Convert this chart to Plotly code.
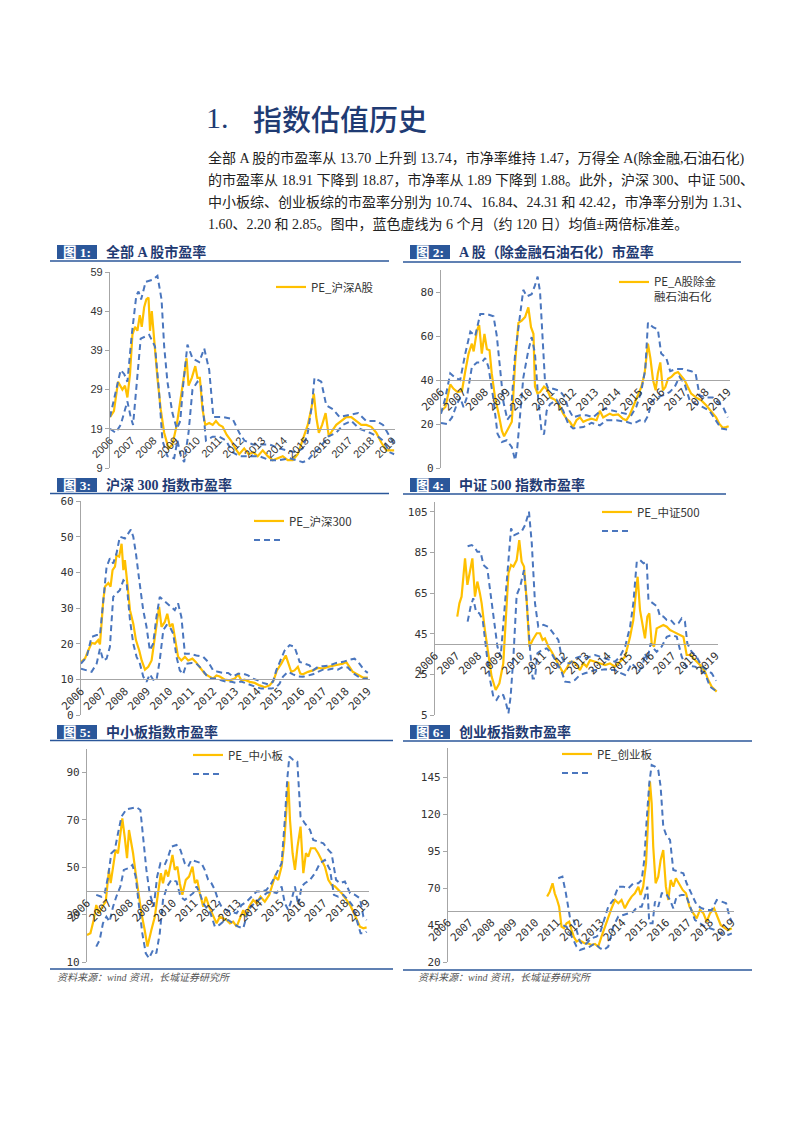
import plotly.graph_objects as go

# ---------------- data (year, value) ----------------
YEARS = list(range(2006, 2020))
YEAR_LABELS = [str(y) for y in YEARS]

C1_PE = [(2006.00,22),(2006.18,23.5),(2006.37,31),(2006.57,29),(2006.69,30),(2006.80,27),(2006.92,33),(2007.03,43),(2007.15,45),(2007.26,44),(2007.37,48),(2007.46,45),(2007.57,50),(2007.67,52),(2007.77,52.5),(2007.84,44),(2007.92,49),(2008.03,41),(2008.18,32),(2008.33,24),(2008.49,18),(2008.69,14),(2008.87,15),(2009.07,20),(2009.26,27),(2009.41,33),(2009.52,37),(2009.61,30),(2009.76,32),(2009.92,35),(2010.02,32),(2010.13,32),(2010.25,24),(2010.38,20),(2010.56,20.5),(2010.72,20),(2010.87,21),(2011.02,20),(2011.18,19.5),(2011.36,17.5),(2011.56,16),(2011.76,14),(2011.94,12.5),(2012.17,14),(2012.37,12.5),(2012.59,13),(2012.79,12),(2013.02,13.5),(2013.25,12),(2013.48,11),(2013.71,11.5),(2013.94,12),(2014.17,11),(2014.40,11),(2014.63,12.5),(2014.86,16),(2015.09,20),(2015.25,24),(2015.37,28),(2015.48,22),(2015.60,18),(2015.75,20),(2015.91,23),(2016.06,17),(2016.21,18.5),(2016.40,20),(2016.63,21),(2016.86,22),(2017.09,22),(2017.32,21),(2017.55,20),(2017.78,20),(2018.01,19.5),(2018.24,18),(2018.47,15.5),(2018.70,13.5),(2018.93,13.5),(2019.06,13.5)]
C1_UP = [(2006.00,22),(2006.49,34),(2006.65,33),(2006.80,31),(2007.00,43),(2007.21,53),(2007.31,54),(2007.43,52),(2007.64,56.5),(2007.95,57),(2008.18,58),(2008.37,52),(2008.49,40),(2008.64,31),(2008.87,23),(2009.07,19),(2009.23,21),(2009.36,30),(2009.56,40.5),(2009.79,37),(2010.10,36),(2010.33,39.5),(2010.56,34),(2010.75,22),(2011.18,22),(2011.64,21.5),(2011.94,18),(2012.18,16),(2012.56,15),(2013.02,15),(2013.33,15),(2013.79,14),(2014.10,13.5),(2014.56,13),(2014.86,14),(2015.09,18),(2015.28,25),(2015.40,32),(2015.71,31),(2015.94,25),(2016.25,24),(2016.55,22),(2017.01,22.5),(2017.40,23),(2017.78,21),(2018.24,21),(2018.55,20),(2018.86,17),(2019.06,15)]
C1_LO = [(2006.00,19),(2006.26,18),(2006.49,20),(2006.80,26),(2006.95,22),(2007.06,20),(2007.41,42),(2007.80,43),(2008.07,40),(2008.26,28),(2008.41,16),(2008.64,12),(2008.95,11.5),(2009.10,16),(2009.26,12),(2009.41,10.5),(2009.61,18),(2009.79,29),(2010.02,31),(2010.18,30),(2010.41,16),(2010.72,17),(2011.02,17),(2011.33,16),(2011.64,13),(2011.94,12),(2012.41,12),(2012.87,12),(2013.33,11),(2013.79,11),(2014.25,11.5),(2014.86,10.5),(2015.09,11),(2015.40,13),(2015.63,14),(2016.02,17),(2016.40,18),(2016.71,20),(2017.09,21),(2017.47,19),(2017.94,18),(2018.32,17),(2018.55,16),(2018.86,13),(2019.06,12.5)]

C2_PE = [(2006.00,25.8),(2006.20,27.7),(2006.42,38),(2006.57,36),(2006.75,34.5),(2006.95,35),(2007.10,44),(2007.25,52),(2007.40,56.5),(2007.48,53),(2007.63,62.5),(2007.73,65),(2007.85,52),(2007.97,61),(2008.08,54),(2008.20,53.5),(2008.30,43),(2008.45,32),(2008.61,24.7),(2008.76,17),(2008.86,14.4),(2009.06,18),(2009.21,21),(2009.36,48),(2009.51,66),(2009.66,67),(2009.81,68.6),(2009.96,73),(2010.08,64),(2010.19,61),(2010.26,37),(2010.37,34),(2010.49,34.5),(2010.67,37),(2010.79,36),(2010.97,32),(2011.17,31),(2011.36,28.5),(2011.54,24.7),(2011.69,22.4),(2011.84,21),(2011.99,18.6),(2012.14,21.7),(2012.30,23),(2012.45,21),(2012.60,21.7),(2012.82,22.4),(2013.05,21.7),(2013.20,26),(2013.35,23),(2013.50,24),(2013.65,24.7),(2013.80,24),(2014.03,24.4),(2014.25,22.4),(2014.40,21.7),(2014.55,24),(2014.70,27.7),(2014.89,31.5),(2015.08,36.8),(2015.23,43),(2015.38,56.5),(2015.49,50),(2015.61,40),(2015.73,35.3),(2015.83,43),(2015.94,48),(2016.06,35.3),(2016.17,36.8),(2016.29,40.6),(2016.44,41.4),(2016.59,43),(2016.74,43.6),(2016.89,42),(2017.04,40),(2017.19,36.8),(2017.34,33.8),(2017.57,32),(2017.79,30.8),(2018.02,28.5),(2018.24,26),(2018.47,23),(2018.62,20),(2018.77,18.3),(2018.92,18.6),(2019.04,19)]
C2_UP = [(2006.00,24.7),(2006.20,32),(2006.42,43),(2006.65,41),(2006.87,40),(2007.10,52),(2007.33,62),(2007.55,60),(2007.78,70),(2008.08,70),(2008.38,69),(2008.53,60),(2008.68,45),(2008.83,30),(2009.01,22),(2009.16,24),(2009.36,52),(2009.58,70),(2009.73,81),(2009.89,78),(2010.11,79),(2010.26,83),(2010.38,87),(2010.49,80),(2010.61,60),(2010.71,40),(2010.86,36),(2011.09,36),(2011.39,35),(2011.62,32),(2011.77,27),(2011.99,23),(2012.30,24),(2012.60,24),(2012.90,23),(2013.12,25),(2013.42,27),(2013.80,26),(2014.25,25),(2014.63,24),(2014.86,28),(2015.08,35),(2015.26,45),(2015.38,66),(2015.61,64),(2015.83,63),(2015.98,52),(2016.21,50),(2016.39,44),(2016.66,45),(2016.96,45),(2017.34,44),(2017.54,43),(2017.72,33),(2018.02,32),(2018.32,32),(2018.55,30),(2018.77,28),(2019.00,23)]
C2_LO = [(2006.00,20.5),(2006.27,20),(2006.50,23),(2006.72,29),(2006.87,32),(2007.02,27.7),(2007.17,32),(2007.40,46),(2007.63,48),(2007.85,48),(2008.00,50),(2008.15,46),(2008.38,31),(2008.56,15.6),(2008.76,11.8),(2008.98,12.6),(2009.21,9.5),(2009.36,3.5),(2009.46,9.5),(2009.58,24.7),(2009.73,41),(2009.96,53.5),(2010.11,59.5),(2010.26,52),(2010.41,31),(2010.56,16.4),(2010.67,15.3),(2010.79,26),(2010.94,29),(2011.24,31),(2011.54,26),(2011.77,20),(2011.99,18),(2012.45,18.6),(2012.82,20.5),(2013.20,19.4),(2013.50,21.7),(2013.95,21.7),(2014.40,21),(2014.70,20),(2015.01,21.7),(2015.23,21),(2015.40,24),(2015.53,30),(2015.76,32),(2016.06,33),(2016.36,34.5),(2016.59,36.8),(2016.81,41.4),(2017.04,38.3),(2017.27,30.8),(2017.57,29),(2017.87,27.7),(2018.17,26),(2018.47,21.7),(2018.70,18),(2019.00,17.4)]

C3_PE = [(2006.00,14.9),(2006.18,15.8),(2006.33,18.1),(2006.48,20.2),(2006.63,20),(2006.78,21),(2006.86,19.8),(2007.01,32.2),(2007.09,36),(2007.24,37),(2007.34,36),(2007.43,40.6),(2007.54,41.6),(2007.61,44.8),(2007.73,44.4),(2007.84,48),(2007.92,40.6),(2007.99,43.4),(2008.10,36.9),(2008.22,29.4),(2008.37,25.6),(2008.49,21),(2008.64,18.1),(2008.75,15.3),(2008.90,12.7),(2009.05,13.5),(2009.20,15.3),(2009.35,21.9),(2009.45,25.6),(2009.54,30.3),(2009.65,24.7),(2009.80,26.1),(2009.91,28.4),(2010.03,24.7),(2010.15,25.6),(2010.25,21.9),(2010.40,16.3),(2010.55,15.3),(2010.71,16.3),(2010.86,15.3),(2011.05,15.8),(2011.20,14.9),(2011.38,13.5),(2011.61,11.6),(2011.84,10.7),(2011.99,10.2),(2012.14,11.1),(2012.29,10.8),(2012.52,9.9),(2012.74,9.7),(2012.97,10.2),(2013.12,11.4),(2013.27,9.7),(2013.42,9.9),(2013.65,9.3),(2013.87,9),(2014.10,8.3),(2014.33,7.8),(2014.55,8.3),(2014.73,9.7),(2014.88,12.5),(2015.08,14.4),(2015.28,16.7),(2015.38,14.9),(2015.53,12.1),(2015.68,12.5),(2015.83,13.5),(2015.94,11.6),(2016.06,11.4),(2016.29,12.1),(2016.51,12.5),(2016.74,13.2),(2016.97,13),(2017.19,13.5),(2017.42,13.9),(2017.64,14.1),(2017.87,14.4),(2018.02,14.9),(2018.17,13.5),(2018.32,12.1),(2018.47,11.6),(2018.62,11.1),(2018.78,10.5),(2019.00,10.5)]
C3_UP = [(2006.00,14.4),(2006.26,16.3),(2006.48,21.9),(2006.71,22.4),(2006.86,22.4),(2007.01,31.3),(2007.16,41.6),(2007.31,43.9),(2007.46,42.5),(2007.61,45.3),(2007.76,50),(2007.99,49.5),(2008.14,50.9),(2008.26,52),(2008.37,50),(2008.49,45.3),(2008.64,37.8),(2008.82,29.4),(2008.97,24.7),(2009.12,18.1),(2009.27,20),(2009.42,27.5),(2009.57,33.1),(2009.73,32.2),(2009.88,31.3),(2010.10,30.3),(2010.25,29.4),(2010.40,31.3),(2010.55,27.5),(2010.71,17.2),(2010.93,17.2),(2011.23,16.7),(2011.54,16.3),(2011.76,14.9),(2011.99,12.5),(2012.21,12.1),(2012.44,11.8),(2012.67,11.8),(2012.89,10.8),(2013.12,11.6),(2013.35,11.6),(2013.57,11.1),(2013.80,10.2),(2014.02,9.7),(2014.25,9),(2014.48,8.6),(2014.70,9.3),(2014.85,12.5),(2015.00,14.9),(2015.23,18.1),(2015.46,19.6),(2015.68,19.1),(2015.91,14.9),(2016.14,14.4),(2016.36,13.9),(2016.51,12.5),(2016.74,13.5),(2016.97,13.7),(2017.27,13.9),(2017.57,14.6),(2017.87,14.9),(2018.17,15.5),(2018.40,15.8),(2018.62,14.4),(2018.85,12.5),(2019.00,11.8)]
C3_LO = [(2006.00,13),(2006.26,12.5),(2006.48,12.1),(2006.71,14.4),(2006.86,18.6),(2007.01,15.3),(2007.16,15.8),(2007.31,19.1),(2007.46,33.1),(2007.61,34.1),(2007.76,35),(2007.92,37.8),(2008.07,36.9),(2008.22,26.6),(2008.37,20),(2008.52,16.3),(2008.67,14.4),(2008.82,10.8),(2008.97,9.3),(2009.12,11.4),(2009.27,9.9),(2009.42,9.7),(2009.57,15.3),(2009.73,23.8),(2009.88,25.2),(2010.03,24.7),(2010.18,22.8),(2010.33,16.3),(2010.48,12.5),(2010.63,11.4),(2010.78,14.4),(2011.01,14.6),(2011.23,14.4),(2011.46,13),(2011.69,11.1),(2011.91,10.2),(2012.14,10.2),(2012.36,9.7),(2012.59,9.3),(2012.82,9.3),(2013.04,9),(2013.27,9.4),(2013.50,8.8),(2013.72,8.3),(2013.95,7.8),(2014.17,7.4),(2014.40,7.4),(2014.63,7.4),(2014.85,7.8),(2015.00,8.8),(2015.15,10.7),(2015.38,12.1),(2015.61,11.4),(2015.83,10.8),(2016.06,10.7),(2016.29,11.1),(2016.51,11.4),(2016.74,12.1),(2016.97,12.7),(2017.19,12.7),(2017.42,13),(2017.64,12.7),(2017.87,13.5),(2018.10,13.3),(2018.32,11.8),(2018.55,10.8),(2018.78,10.2),(2019.00,10.2)]

C4_PE = [(2007.03,53.4),(2007.13,59.9),(2007.23,63.2),(2007.39,82),(2007.50,69),(2007.62,76.3),(2007.73,82),(2007.85,63.2),(2007.96,70.6),(2008.08,64.8),(2008.16,59.9),(2008.31,46.8),(2008.47,33.7),(2008.62,23.9),(2008.81,17.3),(2008.98,20.6),(2009.16,30.4),(2009.29,55),(2009.40,74.7),(2009.52,78.8),(2009.63,78),(2009.78,81.2),(2009.90,91),(2010.01,80.4),(2010.12,78),(2010.24,61.6),(2010.37,38.6),(2010.52,41.9),(2010.71,45.2),(2010.86,45.2),(2010.98,41.9),(2011.09,42.7),(2011.25,38.6),(2011.40,36.1),(2011.56,32.9),(2011.76,29.6),(2011.94,25.5),(2012.10,28),(2012.25,31.2),(2012.40,31.2),(2012.56,29.6),(2012.71,27.1),(2012.87,30.4),(2013.02,28.8),(2013.18,32),(2013.41,31.2),(2013.64,30.4),(2013.87,29.6),(2014.10,30.4),(2014.33,28.8),(2014.56,31.2),(2014.80,33.7),(2015.03,43.5),(2015.18,51.7),(2015.31,66.5),(2015.38,73),(2015.49,56.6),(2015.61,48.4),(2015.72,42.7),(2015.83,53.4),(2015.92,55),(2016.03,40.2),(2016.14,38.6),(2016.26,47.6),(2016.42,48.4),(2016.57,49.3),(2016.73,48.4),(2016.88,46.8),(2017.03,46),(2017.19,45.2),(2017.34,44.3),(2017.50,43.5),(2017.65,34.5),(2017.84,34.5),(2018.04,32),(2018.27,29.6),(2018.50,26.3),(2018.65,22.2),(2018.81,18.9),(2018.96,17.3),(2019.04,16.5)]
C4_UP = [(2007.51,88),(2007.70,88.6),(2007.81,87.8),(2007.96,85.3),(2008.11,85.3),(2008.24,78.8),(2008.42,77.1),(2008.58,64.8),(2008.73,51.7),(2008.89,38.6),(2009.04,33.7),(2009.19,53.4),(2009.35,74.7),(2009.52,96.8),(2009.67,93.5),(2009.81,94.3),(2010.01,95.2),(2010.17,98.4),(2010.35,105),(2010.48,89.4),(2010.63,59.9),(2010.78,48.4),(2011.02,49.3),(2011.25,48.4),(2011.48,45.2),(2011.71,41.9),(2011.86,33.7),(2012.02,30.4),(2012.25,30.4),(2012.48,32.9),(2012.71,33.7),(2012.94,32.9),(2013.18,33.7),(2013.41,34.5),(2013.64,33.7),(2013.87,32.9),(2014.10,32),(2014.33,31.2),(2014.56,33.7),(2014.80,38.6),(2015.03,48.4),(2015.18,59.9),(2015.34,80.4),(2015.49,81.2),(2015.65,79.6),(2015.80,80.4),(2015.88,61.6),(2016.11,59.9),(2016.29,58.3),(2016.42,53.4),(2016.57,53.4),(2016.73,51.7),(2016.91,51.7),(2017.11,49.3),(2017.27,50.1),(2017.42,52.5),(2017.57,50.9),(2017.68,40.2),(2017.88,36.1),(2018.11,33.7),(2018.35,28.8),(2018.58,27.1),(2018.81,25.5),(2019.01,21.9)]
C4_LO = [(2007.51,50.9),(2007.65,58.3),(2007.77,62.4),(2007.90,55.8),(2008.05,55),(2008.21,51.7),(2008.39,35.3),(2008.55,22.2),(2008.70,14),(2008.85,12.4),(2009.01,15.3),(2009.16,14.8),(2009.29,10.7),(2009.40,5.8),(2009.50,14),(2009.63,33.7),(2009.78,64),(2009.94,68.1),(2010.12,76.3),(2010.24,61.6),(2010.40,37),(2010.52,23),(2010.63,23),(2010.74,35.3),(2010.94,37),(2011.17,37.8),(2011.40,35.3),(2011.63,30.4),(2011.86,26.3),(2012.02,21.4),(2012.25,21.1),(2012.48,22.2),(2012.71,24.7),(2012.94,25.5),(2013.18,26.3),(2013.41,27.1),(2013.64,27.1),(2013.87,27.5),(2014.10,27.1),(2014.33,27.1),(2014.56,25.8),(2014.80,24.7),(2014.95,27.1),(2015.10,30.4),(2015.26,28.8),(2015.41,26.3),(2015.61,28.8),(2015.72,35.3),(2015.83,32),(2015.98,40.2),(2016.11,37.8),(2016.26,36.1),(2016.49,38.6),(2016.73,43.5),(2016.96,44.3),(2017.19,43.5),(2017.42,33.7),(2017.62,28.8),(2017.81,29.1),(2018.04,28.8),(2018.27,27.1),(2018.50,25.5),(2018.73,18.9),(2019.01,16.8)]

C5_PE = [(2006.00,21.5),(2006.16,22.2),(2006.31,27.8),(2006.43,34.1),(2006.56,30.6),(2006.71,33.4),(2006.87,35.5),(2007.02,48.9),(2007.10,43.3),(2007.21,50.3),(2007.33,57.3),(2007.44,55.9),(2007.52,62.9),(2007.64,70.6),(2007.75,62.9),(2007.86,53.8),(2007.95,65.7),(2008.06,60.1),(2008.14,55.9),(2008.26,47.5),(2008.37,40.5),(2008.53,30.6),(2008.68,23.6),(2008.81,16.6),(2008.99,23.6),(2009.15,29.2),(2009.30,39.1),(2009.43,47.5),(2009.53,43.3),(2009.66,48.9),(2009.77,46.1),(2009.88,51.7),(2009.97,55.2),(2010.08,48.9),(2010.20,50.3),(2010.31,43.3),(2010.43,38.4),(2010.59,44.7),(2010.74,46.1),(2010.90,50.3),(2011.01,43.3),(2011.12,44.7),(2011.24,39.1),(2011.40,33.4),(2011.52,37.6),(2011.67,33.4),(2011.86,29.9),(2012.02,26.4),(2012.17,29.2),(2012.33,28.5),(2012.48,27.8),(2012.64,26.4),(2012.79,27.1),(2012.95,25),(2013.10,28.5),(2013.26,32),(2013.38,29.2),(2013.53,33.4),(2013.72,36.2),(2013.88,34.8),(2014.06,37.6),(2014.26,35.5),(2014.47,38.4),(2014.62,42.6),(2014.73,46.1),(2014.88,44.7),(2015.04,50.3),(2015.16,60.1),(2015.27,75.5),(2015.35,86.1),(2015.43,69.9),(2015.55,55.9),(2015.66,48.9),(2015.78,58.7),(2015.92,67.1),(2016.05,47.5),(2016.17,55.9),(2016.28,54.5),(2016.40,58),(2016.59,58),(2016.74,55.9),(2016.90,53.1),(2017.05,50.3),(2017.21,44.7),(2017.36,42.6),(2017.52,41.9),(2017.67,40.5),(2017.83,39.1),(2018.06,36.2),(2018.22,34.1),(2018.37,31.3),(2018.53,27.8),(2018.68,25),(2018.84,24.3),(2018.99,24.7)]
C5_UP = [(2006.43,38.4),(2006.67,37.6),(2006.82,39.1),(2006.98,46.1),(2007.13,55.9),(2007.29,57.3),(2007.44,64.3),(2007.60,71.3),(2007.83,74.4),(2008.06,74.8),(2008.29,75.3),(2008.48,74.1),(2008.64,58.7),(2008.76,48.9),(2008.91,39.1),(2009.10,33.4),(2009.26,46.1),(2009.41,51.7),(2009.61,51),(2009.77,54.5),(2009.92,58.7),(2010.16,59.4),(2010.34,57.3),(2010.54,51.7),(2010.70,50.3),(2010.85,53.1),(2011.09,52.4),(2011.32,51.7),(2011.47,48.9),(2011.63,44.7),(2011.78,43.3),(2011.94,40.5),(2012.09,36.2),(2012.25,33.4),(2012.48,32),(2012.71,31.3),(2012.95,30.6),(2013.18,34.1),(2013.41,35.5),(2013.64,37.6),(2013.88,39.8),(2014.11,39.8),(2014.34,40.5),(2014.57,43.3),(2014.81,47.5),(2015.04,51.7),(2015.19,69.9),(2015.30,86.8),(2015.40,96.6),(2015.58,95.2),(2015.77,94.5),(2015.92,71.3),(2016.12,68.5),(2016.36,65.7),(2016.51,61.5),(2016.74,60.8),(2016.98,60.1),(2017.21,57.3),(2017.36,55.9),(2017.57,44.7),(2017.75,43.3),(2017.98,44),(2018.22,39.1),(2018.45,38.4),(2018.68,36.9),(2018.84,29.2),(2018.99,27.8)]
C5_LO = [(2006.43,16.6),(2006.59,19.4),(2006.74,26.4),(2006.90,29.2),(2007.05,27.1),(2007.21,33.4),(2007.36,37.6),(2007.55,41.9),(2007.71,48.9),(2007.91,49.6),(2008.11,51),(2008.26,46.1),(2008.42,33.4),(2008.57,22.2),(2008.73,13.8),(2008.88,11.7),(2009.07,15.2),(2009.22,13.8),(2009.38,22.2),(2009.53,36.2),(2009.72,41.9),(2009.92,44.7),(2010.16,44),(2010.34,37.6),(2010.54,36.2),(2010.74,37.6),(2010.93,39.1),(2011.09,41.9),(2011.24,39.1),(2011.40,34.8),(2011.55,32.7),(2011.74,30.6),(2011.94,25),(2012.14,25.7),(2012.33,27.1),(2012.56,27.8),(2012.79,26.4),(2013.02,25),(2013.26,24.3),(2013.49,32),(2013.69,34.1),(2013.88,35.5),(2014.11,37.6),(2014.34,39.1),(2014.57,39.8),(2014.81,39.1),(2015.04,41.9),(2015.19,34.8),(2015.35,32),(2015.50,36.2),(2015.66,41.9),(2015.81,34.1),(2015.97,41.9),(2016.12,43.3),(2016.36,44.7),(2016.59,47.5),(2016.82,51.7),(2017.05,53.1),(2017.29,48.9),(2017.47,38.4),(2017.67,37.6),(2017.91,38.4),(2018.14,36.2),(2018.37,33.4),(2018.53,27.8),(2018.71,22.2),(2018.91,22.2),(2018.99,22.9)]

C6_PE = [(2010.54,64.4),(2010.66,67.7),(2010.79,73.4),(2010.89,66.6),(2011.00,62.1),(2011.09,57.6),(2011.20,44.1),(2011.31,43),(2011.43,46.4),(2011.55,47.5),(2011.66,41.8),(2011.76,37.3),(2011.89,34),(2012.01,35.1),(2012.12,34),(2012.27,32.8),(2012.42,32.8),(2012.57,31.7),(2012.73,32.4),(2012.88,30.6),(2013.03,37.3),(2013.19,44.1),(2013.34,50.9),(2013.49,56.5),(2013.65,62.1),(2013.80,59.9),(2013.95,62.1),(2014.10,56.5),(2014.26,61),(2014.41,64.4),(2014.56,66.6),(2014.72,71.1),(2014.82,65.5),(2014.94,71.1),(2015.07,86.9),(2015.17,116.2),(2015.25,142.1),(2015.33,127.4),(2015.40,98.2),(2015.51,73.4),(2015.63,77.9),(2015.74,89.1),(2015.86,95.9),(2015.98,71.1),(2016.09,62.1),(2016.20,75.6),(2016.32,71.1),(2016.44,76.8),(2016.60,72.3),(2016.75,68.9),(2016.90,66.6),(2017.06,57.6),(2017.24,53.1),(2017.39,49.7),(2017.54,55.4),(2017.70,53.1),(2017.85,47.5),(2018.00,53.1),(2018.19,56.5),(2018.34,50.9),(2018.49,45.2),(2018.69,43),(2018.84,41.8),(2019.00,43)]
C6_UP = [(2011.05,76.8),(2011.24,77.9),(2011.40,66.6),(2011.58,50.9),(2011.73,49.7),(2011.89,41.8),(2012.04,34),(2012.19,31.7),(2012.35,32.8),(2012.57,36.2),(2012.80,37.3),(2012.96,39.6),(2013.14,48.6),(2013.34,57.6),(2013.57,62.1),(2013.80,71.1),(2014.03,71.1),(2014.26,70),(2014.49,73.4),(2014.72,73.4),(2014.87,75.6),(2014.99,89.1),(2015.10,116.2),(2015.22,141),(2015.33,153.3),(2015.48,152.2),(2015.63,150),(2015.74,138.7),(2015.86,111.7),(2016.02,104.9),(2016.17,102.7),(2016.32,82.4),(2016.55,81.3),(2016.78,80.1),(2016.93,73.4),(2017.16,66.6),(2017.39,58.7),(2017.62,56.5),(2017.85,55.4),(2018.08,55.4),(2018.31,62.1),(2018.54,61),(2018.74,59.9),(2018.89,50.9),(2019.00,47.5)]
C6_LO = [(2011.28,45),(2011.43,44),(2011.58,40),(2011.73,35.1),(2011.89,30.6),(2012.04,28.3),(2012.27,29.5),(2012.50,30.6),(2012.73,32.8),(2012.96,29.5),(2013.14,28.3),(2013.34,30.6),(2013.57,44.1),(2013.80,50.9),(2014.03,52),(2014.26,53.1),(2014.49,54.2),(2014.67,57.6),(2014.87,57.6),(2015.02,64.4),(2015.13,71.1),(2015.22,46.4),(2015.37,46.4),(2015.48,61),(2015.63,57.6),(2015.79,66.6),(2015.98,66.6),(2016.17,62.1),(2016.32,56.5),(2016.47,64.4),(2016.70,65.5),(2016.90,65.5),(2017.09,57.6),(2017.31,48.6),(2017.54,46.4),(2017.77,44.1),(2018.00,43),(2018.23,41.8),(2018.46,39.6),(2018.69,39.6),(2018.84,38.5),(2019.00,39.6)]

CHART_TITLES = ["全部 A 股市盈率", "A 股（除金融石油石化）市盈率", "沪深 300 指数市盈率",
                "中证 500 指数市盈率", "中小板指数市盈率", "创业板指数市盈率"]
FIG_LABELS = ["图 1:", "图 2:", "图 3:", "图 4:", "图 5:", "图 6:"]
SERIES_NAMES = ["PE_沪深A股", "PE_A股除金<br>融石油石化", "PE_沪深300", "PE_中证500", "PE_中小板", "PE_创业板"]
SERIES = [(C1_PE, C1_UP, C1_LO), (C2_PE, C2_UP, C2_LO), (C3_PE, C3_UP, C3_LO),
          (C4_PE, C4_UP, C4_LO), (C5_PE, C5_UP, C5_LO), (C6_PE, C6_UP, C6_LO)]
Y_RANGES = [(9, 59), (0, 90), (0, 60), (5, 110), (10, 100), (20, 165)]
Y_TICK0 = [9, 0, 0, 5, 10, 20]
Y_DTICK = [10, 20, 10, 20, 20, 25]
X_CROSS = [19, 40, 10, 40, 40, 55]

HEADING_NUM = "1."
HEADING_TEXT = "指数估值历史"
PARAGRAPH = [
    "全部 A 股的市盈率从 13.70 上升到 13.74，市净率维持 1.47，万得全 A(除金融,石油石化)",
    "的市盈率从 18.91 下降到 18.87，市净率从 1.89 下降到 1.88。此外，沪深 300、中证 500、",
    "中小板综、创业板综的市盈率分别为 10.74、16.84、24.31 和 42.42，市净率分别为 1.31、",
    "1.60、2.20 和 2.85。图中，蓝色虚线为 6 个月（约 120 日）均值±两倍标准差。",
]
SOURCE = "资料来源：wind 资讯，长城证券研究所"

# ---------------- layout helpers ----------------
W, H = 802, 1133
def fx(px): return px / W
def fy(py): return 1 - py / H

YELLOW = "#FFC000"
BLUE = "#4A76BE"
NAVY = "#1F3B73"
BAR = "#2B579A"
AXIS = "#A6A6A6"
CJK = "Noto Sans CJK SC"

BOXES = [(110, 395, 272, 468), (441, 730, 270, 468), (81, 370, 501, 715),
         (435, 718, 501.5, 715), (87, 369, 748.5, 962.3), (448, 734, 747.7, 962.3)]
HEAD_Y = [252, 252, 485, 485, 732, 732]
HEAD_X = [57, 410, 57, 410, 57, 410]
LINE_Y = [261, 262, 493.5, 494, 740.5, 741]
LINE_X = [(50, 389), (403, 741), (50, 389), (403, 726), (50, 393), (403, 752)]
LEG_POS = [(271, 273), (614, 268), (249, 507), (597, 498), (188, 741), (557, 740)]
TICK_FONT = ["Liberation Sans", "DejaVu Sans Mono", "DejaVu Sans Mono",
             "DejaVu Sans Mono", "DejaVu Sans Mono", "DejaVu Sans Mono"]

fig = go.Figure()
layout = dict(width=W, height=H, margin=dict(l=0, r=0, t=0, b=0),
              paper_bgcolor="white", plot_bgcolor="rgba(0,0,0,0)", shapes=[], annotations=[])

for i in range(6):
    k = "" if i == 0 else str(i + 1)
    xa, ya = "x" + k, "y" + k
    lg = "legend" if i == 0 else "legend" + str(i + 1)
    pe, up, lo = SERIES[i]
    for j, (ser, col, dash, name, show) in enumerate([
            (pe, YELLOW, "solid", SERIES_NAMES[i], True),
            (up, BLUE, "6px,4px", " ", i >= 2),
            (lo, BLUE, "6px,4px", " ", False)]):
        fig.add_trace(go.Scatter(
            x=[p[0] for p in ser], y=[p[1] for p in ser], mode="lines",
            line=dict(color=col, width=2.2 if j == 0 else 2, dash=dash),
            name=name, showlegend=show, legend=lg, xaxis=xa, yaxis=ya,
            hoverinfo="skip"))
    L, R, T, B = BOXES[i]
    y0, y1 = Y_RANGES[i]
    cross_px = B - (X_CROSS[i] - y0) / (y1 - y0) * (B - T)
    tf = dict(family=TICK_FONT[i], size=11, color="#333333")
    layout["xaxis" + k] = dict(
        domain=[fx(L), fx(R)], range=[2006, 2019.1], anchor="free", position=fy(cross_px),
        tickmode="array", tickvals=YEARS, ticktext=YEAR_LABELS, tickangle=-45,
        tickfont=dict(family=TICK_FONT[i], size=11, color="#333333"),
        showline=True, linecolor=AXIS, linewidth=1.3, ticks="", showgrid=False,
        zeroline=False, automargin=False, fixedrange=True)
    layout["yaxis" + k] = dict(
        domain=[fy(B), fy(T)], range=[y0, y1], anchor=xa,
        tickmode="linear", tick0=Y_TICK0[i], dtick=Y_DTICK[i], tickfont=tf,
        showline=True, linecolor=AXIS, linewidth=1.3, ticks="outside", ticklen=4,
        tickcolor=AXIS, showgrid=False, zeroline=False, automargin=False, fixedrange=True)
    lx, ly = LEG_POS[i]
    layout[lg] = dict(x=fx(lx), y=fy(ly), xanchor="left", yanchor="top",
                      bgcolor="rgba(0,0,0,0)", font=dict(family=CJK, size=11.5, color="#333333"),
                      itemwidth=30, tracegroupgap=0, valign="top")
    hx, hy = HEAD_X[i], HEAD_Y[i]
    layout["shapes"].append(dict(type="rect", xref="paper", yref="paper",
                                 x0=fx(hx), x1=fx(hx + 40), y0=fy(hy + 7), y1=fy(hy - 7),
                                 fillcolor=BAR, line=dict(width=0)))
    layout["annotations"].append(dict(x=fx(hx + 20), y=fy(hy), xref="paper", yref="paper",
                                      text="<b>" + FIG_LABELS[i] + "</b>", showarrow=False,
                                      font=dict(family="Liberation Serif, " + CJK, size=13.5, color="white"),
                                      xanchor="center", yanchor="middle"))
    layout["annotations"].append(dict(x=fx(hx + 47), y=fy(hy), xref="paper", yref="paper",
                                      text="<b>" + CHART_TITLES[i] + "</b>", showarrow=False,
                                      font=dict(family="Liberation Serif, " + CJK, size=14, color=NAVY),
                                      xanchor="left", yanchor="middle"))
    lx0, lx1 = LINE_X[i]
    layout["shapes"].append(dict(type="line", xref="paper", yref="paper",
                                 x0=fx(lx0), x1=fx(lx1), y0=fy(LINE_Y[i]), y1=fy(LINE_Y[i]),
                                 line=dict(color=BAR, width=1.6)))

for (x0, x1, yy, sx) in [(50, 393, 969, 55), (403, 752, 970, 416)]:
    layout["shapes"].append(dict(type="line", xref="paper", yref="paper",
                                 x0=fx(x0), x1=fx(x1), y0=fy(yy), y1=fy(yy),
                                 line=dict(color=BAR, width=1.6)))
    layout["annotations"].append(dict(x=fx(sx), y=fy(977), xref="paper", yref="paper",
                                      text="<i>" + SOURCE + "</i>", showarrow=False,
                                      font=dict(family="Liberation Serif, " + CJK, size=10, color="#555555"),
                                      xanchor="left", yanchor="middle"))

layout["annotations"].append(dict(x=fx(204), y=fy(118), xref="paper", yref="paper", text=HEADING_NUM,
                                  showarrow=False, xanchor="left", yanchor="middle",
                                  font=dict(family="Liberation Serif", size=30, color=NAVY)))
layout["annotations"].append(dict(x=fx(251), y=fy(118), xref="paper", yref="paper", text=HEADING_TEXT,
                                  showarrow=False, xanchor="left", yanchor="middle",
                                  font=dict(family=CJK, size=29, color=NAVY, weight=500)))
for n, line in enumerate(PARAGRAPH):
    layout["annotations"].append(dict(x=fx(206), y=fy(158 + 22 * n), xref="paper", yref="paper",
                                      text=line, showarrow=False, xanchor="left", yanchor="middle",
                                      font=dict(family="Liberation Serif, " + CJK, size=14, color="#222222")))

fig.update_layout(**layout)
fig.write_html("out.html")
